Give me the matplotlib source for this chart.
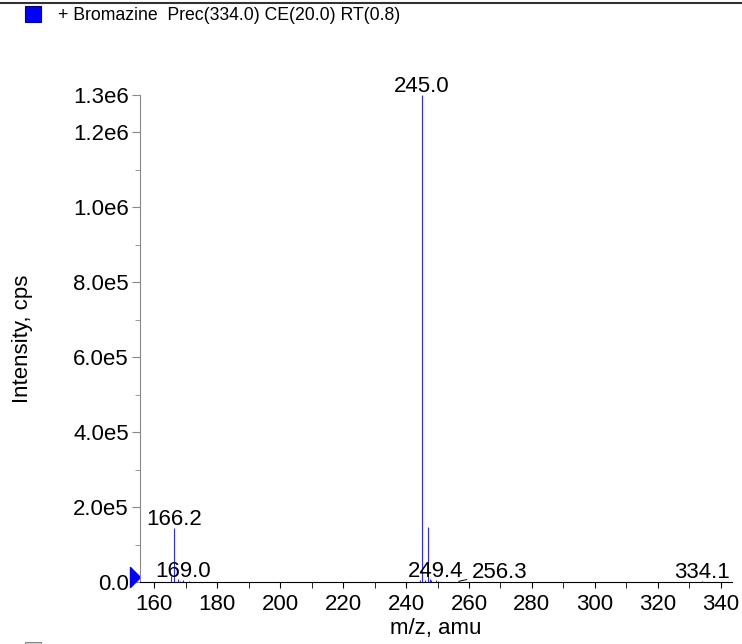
#!/usr/bin/env python3
# -*- coding: utf-8 -*-

import numpy as np
import matplotlib
matplotlib.use("Agg")
import matplotlib.pyplot as plt
from matplotlib.patches import Rectangle
from matplotlib.lines import Line2D
from matplotlib.path import Path

plt.rcParams['font.family'] = ['Liberation Sans', 'DejaVu Sans']

# peaks (m/z, intensity in cps)
mz = [165.3, 166.2, 167.4, 168.2, 169.0, 171.1,
      244.5, 245.0, 246.1, 247.0, 247.7, 248.0, 249.4,
      250.3, 251.2, 252.1, 253.0, 254.0, 255.1, 256.3, 334.1]
intensity = [16000, 145000, 9000, 3000, 5000, 1500,
             4000, 1300000, 6000, 146000, 8000, 4000, 5000,
             1500, 1200, 1200, 1000, 1000, 1000, 1000, 2500]

labelled = [245.0, 166.2, 169.0, 249.4, 256.3, 334.1]
title = "+ Bromazine  Prec(334.0) CE(20.0) RT(0.8)"

yticks = [0, 2e5, 4e5, 6e5, 8e5, 1.0e6, 1.2e6, 1.3e6]
ytick_labels = ["0.0", "2.0e5", "4.0e5", "6.0e5", "8.0e5", "1.0e6", "1.2e6", "1.3e6"]
yminor = [1e5, 3e5, 5e5, 7e5, 9e5, 1.1e6]
xticks = np.arange(160, 341, 20)
xminor = np.arange(170, 341, 20)

fig = plt.figure(figsize=(7.42, 6.44), dpi=100)
ax = fig.add_axes([0.1887, 0.0963, 0.7974, 0.7562])

ax.vlines(mz, 0, intensity, color="#2a2aff", linewidth=0.8)
ax.set_xlim(155.45, 343.5)
ax.set_ylim(0, 1.3e6)

ax.set_yticks(yticks)
ax.set_yticklabels(ytick_labels)
ax.set_yticks(yminor, minor=True)
ax.set_xticks(xticks)
ax.set_xticks(xminor, minor=True)

fs = 16
ax.tick_params(axis='both', labelsize=fs)
ax.tick_params(axis='y', which='major', length=6, color='#888888', pad=2)
ax.tick_params(axis='y', which='minor', length=3.5, color='#888888')
ax.tick_params(axis='x', which='both', length=4, color='black', pad=5)

for s in ['top', 'right']:
    ax.spines[s].set_visible(False)
ax.spines['left'].set_color('#888888')
ax.spines['bottom'].set_color('black')

ax.set_xlabel("m/z, amu", fontsize=fs)
ax.set_ylabel("Intensity, cps", fontsize=fs)
ax.yaxis.set_label_coords(-0.181, 0.5)
ax.xaxis.set_label_coords(0.5, -0.074)

# peak labels
for m in labelled:
    h = intensity[mz.index(m)]
    if m == 256.3:
        ax.annotate(f"{m:.1f}", xy=(m, h), xytext=(m + 13.6, 10700),
                    ha='center', va='baseline', fontsize=fs,
                    arrowprops=dict(arrowstyle='-', color='black', lw=0.7,
                                    shrinkA=2, shrinkB=1))
    else:
        ax.annotate(f"{m:.1f}", xy=(m, h), xytext=(0, 3),
                    textcoords='offset pixels', ha='center', va='baseline',
                    fontsize=fs, annotation_clip=False)

# blue marker at zero intensity (narrow right-pointing triangle)
tri = Path([(-0.5, -1), (0.5, 0), (-0.5, 1), (-0.5, -1)],
           [Path.MOVETO, Path.LINETO, Path.LINETO, Path.CLOSEPOLY])
ax.plot([-5 / 591.7], [5 / 487 * 1.3e6], marker=tri, ms=14.4, color='#0000ff',
        transform=ax.get_yaxis_transform(), clip_on=False)

# header
fig.lines.append(Line2D([0, 1], [1 - 3 / 644, 1 - 3 / 644], color='#333333',
                        lw=1.5, transform=fig.transFigure))
fig.patches.append(Rectangle((25 / 742, 1 - 22 / 644), 16 / 742, 16 / 644,
                             facecolor='#0000ff', edgecolor='#000080', lw=0.8,
                             transform=fig.transFigure))
fig.text(58 / 742, 1 - 15 / 644, title, fontsize=12.7, va='center', ha='left')
fig.patches.append(Rectangle((25 / 742, -14 / 644), 16 / 742, 16 / 644,
                             facecolor='#d0d0d0', edgecolor='#888888', lw=0.8,
                             transform=fig.transFigure))

fig.savefig("out.png", dpi=100)
